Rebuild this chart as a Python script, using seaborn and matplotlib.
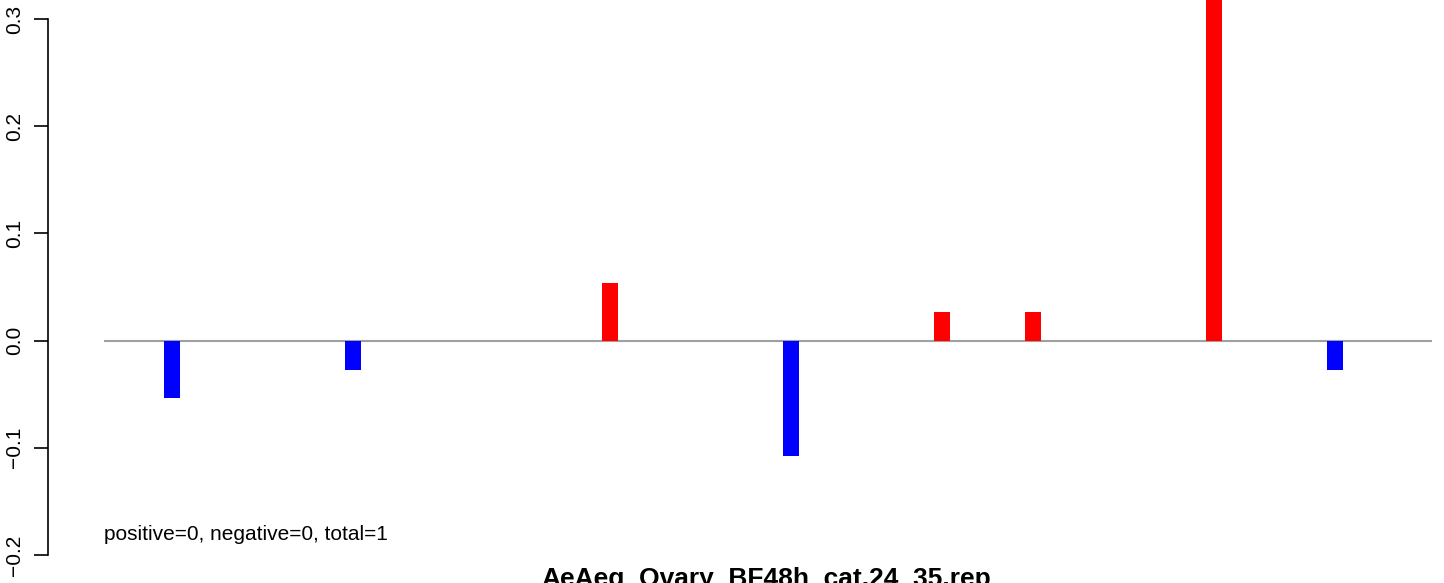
import numpy as np
import pandas as pd
import matplotlib.pyplot as plt
import seaborn as sns

# data
positions = [0, 12, 29, 41, 51, 57, 69, 77]
scores = [-0.054, -0.027, 0.054, -0.108, 0.027, 0.027, 0.35, -0.027]
yticks = [-0.2, -0.1, 0.0, 0.1, 0.2, 0.3]
ytick_labels = ['\u22120.2', '\u22120.1', '0.0', '0.1', '0.2', '0.3']
title = 'AeAeg_Ovary_BF48h_cat.24_35.rep'
note = 'positive=0, negative=0, total=1'

df = pd.DataFrame({'pos': positions, 'score': scores})
df['sign'] = np.where(df['score'] > 0, 'up', 'down')

sns.set_style('white', {'text.color': 'black', 'ytick.color': 'black'})
plt.rcParams['font.family'] = ['Liberation Sans', 'DejaVu Sans']

fig = plt.figure(figsize=(14.44, 5.83), dpi=100)
ax = fig.add_axes([48 / 1444, 0, 1396 / 1444, 1])

# zero line first so bars sit on top
ax.hlines(0, -4.5, 83.45, color='#a0a0a0', linewidth=1.5, zorder=1)

sns.barplot(data=df, x='pos', y='score', hue='sign', native_scale=True,
            palette={'up': '#ff0000', 'down': '#0000ff'}, dodge=False,
            width=0.177, saturation=1, legend=False, ax=ax, zorder=2,
            edgecolor='none', linewidth=0)

ax.set_xlim(-8.21, 84.24)
ax.set_ylim(-0.2262, 0.3178)
ax.set_xlabel('')
ax.set_ylabel('')
ax.set_xticks([])
ax.set_yticks(yticks)
ax.set_yticklabels(ytick_labels, rotation=90, va='center', fontsize=15,
                   color='black')
ax.tick_params(axis='y', direction='out', length=10, width=1.2, pad=7,
               left=True, colors='black')
for side in ['top', 'right', 'bottom']:
    ax.spines[side].set_visible(False)
ax.spines['left'].set_bounds(-0.2, 0.3)
ax.spines['left'].set_linewidth(1.2)
ax.spines['left'].set_color('black')
ax.patch.set_alpha(0)

ax.text(-4.5, -0.181, note, fontsize=15, va='center', ha='left',
        color='black')
fig.text(766 / 1444, 1 - 586 / 583, title, ha='center', va='baseline',
         fontsize=19, fontweight='bold', color='black')

fig.savefig('out.png', dpi=100)
